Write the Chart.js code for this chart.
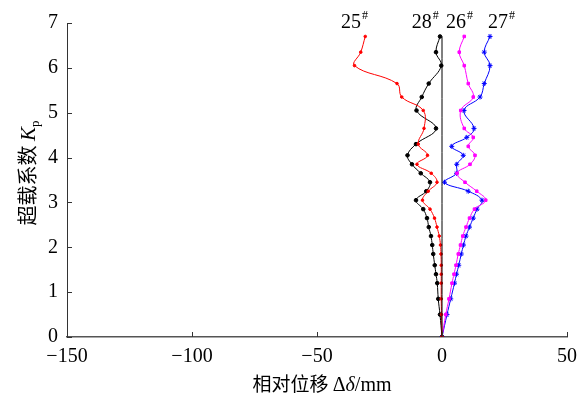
<!DOCTYPE html>
<html lang="zh">
<head>
  <meta charset="UTF-8">
  <title>超载系数与相对位移</title>
  <script src="https://cdn.jsdelivr.net/npm/chart.js"></script>
  <style>
    body { margin: 0; padding: 0; background: #fff; }
    canvas { display: block; }
  </style>
</head>
<body>
  <canvas id="chart" width="577" height="396"></canvas>

  <script>
    // overload factor Kp (y) and relative displacement (x, mm) for each test point
    const kp25 = [0, 0.5, 0.85, 1.2, 1.4, 1.6, 1.85, 2.05, 2.25, 2.45, 2.65, 2.85, 3.05, 3.25, 3.45, 3.65, 3.85, 4.05, 4.3, 4.65, 5.05, 5.35, 5.65, 6.05, 6.35, 6.7];
    const d25  = [0, -0.2, -0.3, -0.3, -0.3, -0.3, -0.4, -0.6, -1.1, -2.0, -3.0, -4.8, -7.8, -5.5, -2.0, -4.3, -10.0, -5.8, -9.5, -7.2, -7.5, -16.1, -18.0, -35.0, -32.5, -30.7];

    const kp28 = [0, 0.5, 0.85, 1.2, 1.4, 1.6, 1.85, 2.05, 2.25, 2.45, 2.65, 2.85, 3.05, 3.25, 3.45, 3.65, 3.85, 4.05, 4.3, 4.65, 5.05, 5.35, 5.65, 6.05, 6.35, 6.7];
    const d28  = [0, -0.8, -1.5, -1.9, -2.4, -2.9, -3.5, -3.9, -4.4, -5.3, -6.0, -7.5, -10.4, -6.3, -4.8, -8.5, -12.0, -13.8, -10.4, -2.4, -10.2, -8.1, -5.3, -0.3, -2.4, -0.8];

    const kp26 = [0, 0.5, 0.85, 1.2, 1.4, 1.6, 1.85, 2.05, 2.25, 2.45, 2.65, 2.85, 3.05, 3.25, 3.45, 3.65, 3.85, 4.05, 4.25, 4.45, 4.65, 5.05, 5.35, 5.65, 6.05, 6.35, 6.7];
    const d26  = [0, 1.5, 2.8, 4.0, 4.8, 5.6, 6.5, 7.4, 8.3, 9.6, 11.0, 13.0, 17.5, 13.9, 9.2, 6.0, 11.2, 13.2, 10.5, 12.5, 8.9, 7.5, 12.5, 10.5, 8.9, 6.9, 8.9];

    const kp27 = [0, 0.5, 0.85, 1.2, 1.4, 1.6, 1.85, 2.05, 2.25, 2.45, 2.65, 2.85, 3.05, 3.25, 3.45, 3.65, 3.85, 4.05, 4.25, 4.45, 4.65, 5.05, 5.35, 5.65, 6.05, 6.35, 6.7];
    const d27  = [0, 2.0, 3.5, 5.0, 5.8, 6.7, 7.7, 8.6, 9.6, 11.0, 12.5, 14.0, 16.0, 10.5, 1.0, 5.8, 5.9, 8.5, 3.9, 9.9, 12.8, 8.8, 15.2, 16.9, 19.2, 16.9, 19.2];

    // reference line at zero displacement
    const zeroKp = [0, 6.7];
    const zeroD  = [0, 0];

    // series labels and where they sit (data units)
    const seriesNames = ['25', '28', '26', '27'];
    const nameX  = [-40.4, -12.1, 1.6, 18.4];
    const nameKp = [6.89, 6.89, 6.89, 6.89];

    const xTicks = [-150, -100, -50, 0, 50];
    const yTicks = [0, 1, 2, 3, 4, 5, 6, 7];

    const serif = '"Liberation Serif", "Times New Roman", serif';
    const cjk = '"Noto Sans CJK SC", sans-serif';

    const toPoints = (xs, ys) => xs.map((x, i) => ({ x: x, y: ys[i] }));

    function series(xs, ys, color, style, radius) {
      return {
        data: toPoints(xs, ys),
        showLine: true,
        borderColor: color,
        backgroundColor: color,
        borderWidth: 1,
        tension: 0.4,
        pointStyle: style,
        pointRadius: radius,
        pointBorderWidth: 1,
        pointBackgroundColor: color,
        pointBorderColor: color
      };
    }

    // inward tick marks, axis titles and series names
    const decorations = {
      id: 'decorations',
      afterDraw(chart) {
        const ctx = chart.ctx;
        const xs = chart.scales.x, ys = chart.scales.y;
        const area = chart.chartArea;
        ctx.save();
        ctx.strokeStyle = '#333';
        ctx.lineWidth = 1;
        xTicks.forEach(v => {
          const px = Math.round(xs.getPixelForValue(v)) + 0.5;
          ctx.beginPath();
          ctx.moveTo(px, area.bottom);
          ctx.lineTo(px, area.bottom - 5);
          ctx.stroke();
        });
        yTicks.forEach(v => {
          const py = Math.round(ys.getPixelForValue(v)) + 0.5;
          ctx.beginPath();
          ctx.moveTo(area.left, py);
          ctx.lineTo(area.left + 5, py);
          ctx.stroke();
        });

        ctx.fillStyle = '#000';
        ctx.textBaseline = 'alphabetic';
        ctx.textAlign = 'left';

        // series names with superscript #
        seriesNames.forEach((name, i) => {
          const px = xs.getPixelForValue(nameX[i]);
          const py = ys.getPixelForValue(nameKp[i]);
          ctx.font = '20px ' + serif;
          ctx.fillText(name, px, py);
          const w = ctx.measureText(name).width;
          ctx.font = '12px ' + serif;
          ctx.fillText('#', px + w + 1, py - 9);
        });

        // x axis title
        const xParts = [
          { t: '相对位移 ', f: '19px ' + cjk },
          { t: 'Δ', f: '20px ' + serif },
          { t: 'δ', f: 'italic 20px ' + serif },
          { t: '/mm', f: '20px ' + serif }
        ];
        let total = 0;
        xParts.forEach(p => { ctx.font = p.f; p.w = ctx.measureText(p.t).width; total += p.w; });
        let cx = (area.left + area.right) / 2 - total / 2 + 5;
        xParts.forEach(p => { ctx.font = p.f; ctx.fillText(p.t, cx, 391); cx += p.w; });

        // y axis title, rotated
        ctx.translate(35, 173);
        ctx.rotate(-Math.PI / 2);
        const yParts = [
          { t: '超载系数 ', f: '20px ' + cjk, dy: 0 },
          { t: 'K', f: 'italic 21px ' + serif, dy: 0 },
          { t: 'p', f: '13px ' + serif, dy: 4 }
        ];
        total = 0;
        yParts.forEach(p => { ctx.font = p.f; p.w = ctx.measureText(p.t).width; total += p.w; });
        cx = -total / 2;
        yParts.forEach(p => { ctx.font = p.f; ctx.fillText(p.t, cx, p.dy); cx += p.w; });
        ctx.restore();
      }
    };

    const ctx = document.getElementById('chart').getContext('2d');
    new Chart(ctx, {
      type: 'scatter',
      data: {
        datasets: [
          series(zeroD, zeroKp, '#000000', false, 0),
          series(d25, kp25, '#ff0000', 'circle', 1.3),
          series(d28, kp28, '#000000', 'circle', 1.8),
          series(d26, kp26, '#ff00ff', 'rect', 1.8),
          series(d27, kp27, '#0000ff', 'star', 2.5)
        ]
      },
      options: {
        responsive: false,
        animation: false,
        layout: { padding: { left: 0, right: 10, top: 23, bottom: 0 } },
        plugins: {
          legend: { display: false },
          tooltip: { enabled: false }
        },
        scales: {
          x: {
            type: 'linear',
            min: -150,
            max: 50,
            afterFit: s => { s.height = 59; s.paddingLeft = 0; s.paddingRight = 0; },
            afterBuildTicks: s => { s.ticks = xTicks.map(v => ({ value: v })); },
            ticks: {
              color: '#000',
              padding: 8,
              font: { family: serif, size: 20 },
              callback: v => (v < 0 ? '\u2212' + Math.abs(v) : String(v))
            },
            grid: { display: true, drawOnChartArea: false, drawTicks: false },
            border: { display: true, color: '#555', width: 1.5 }
          },
          y: {
            type: 'linear',
            min: 0,
            max: 7,
            afterFit: s => { s.width = 67; },
            afterBuildTicks: s => { s.ticks = yTicks.map(v => ({ value: v })); },
            ticks: {
              color: '#000',
              padding: 9,
              font: { family: serif, size: 20 }
            },
            grid: { display: true, drawOnChartArea: false, drawTicks: false },
            border: { display: true, color: '#333', width: 1 }
          }
        }
      },
      plugins: [decorations]
    });
  </script>
</body>
</html>
